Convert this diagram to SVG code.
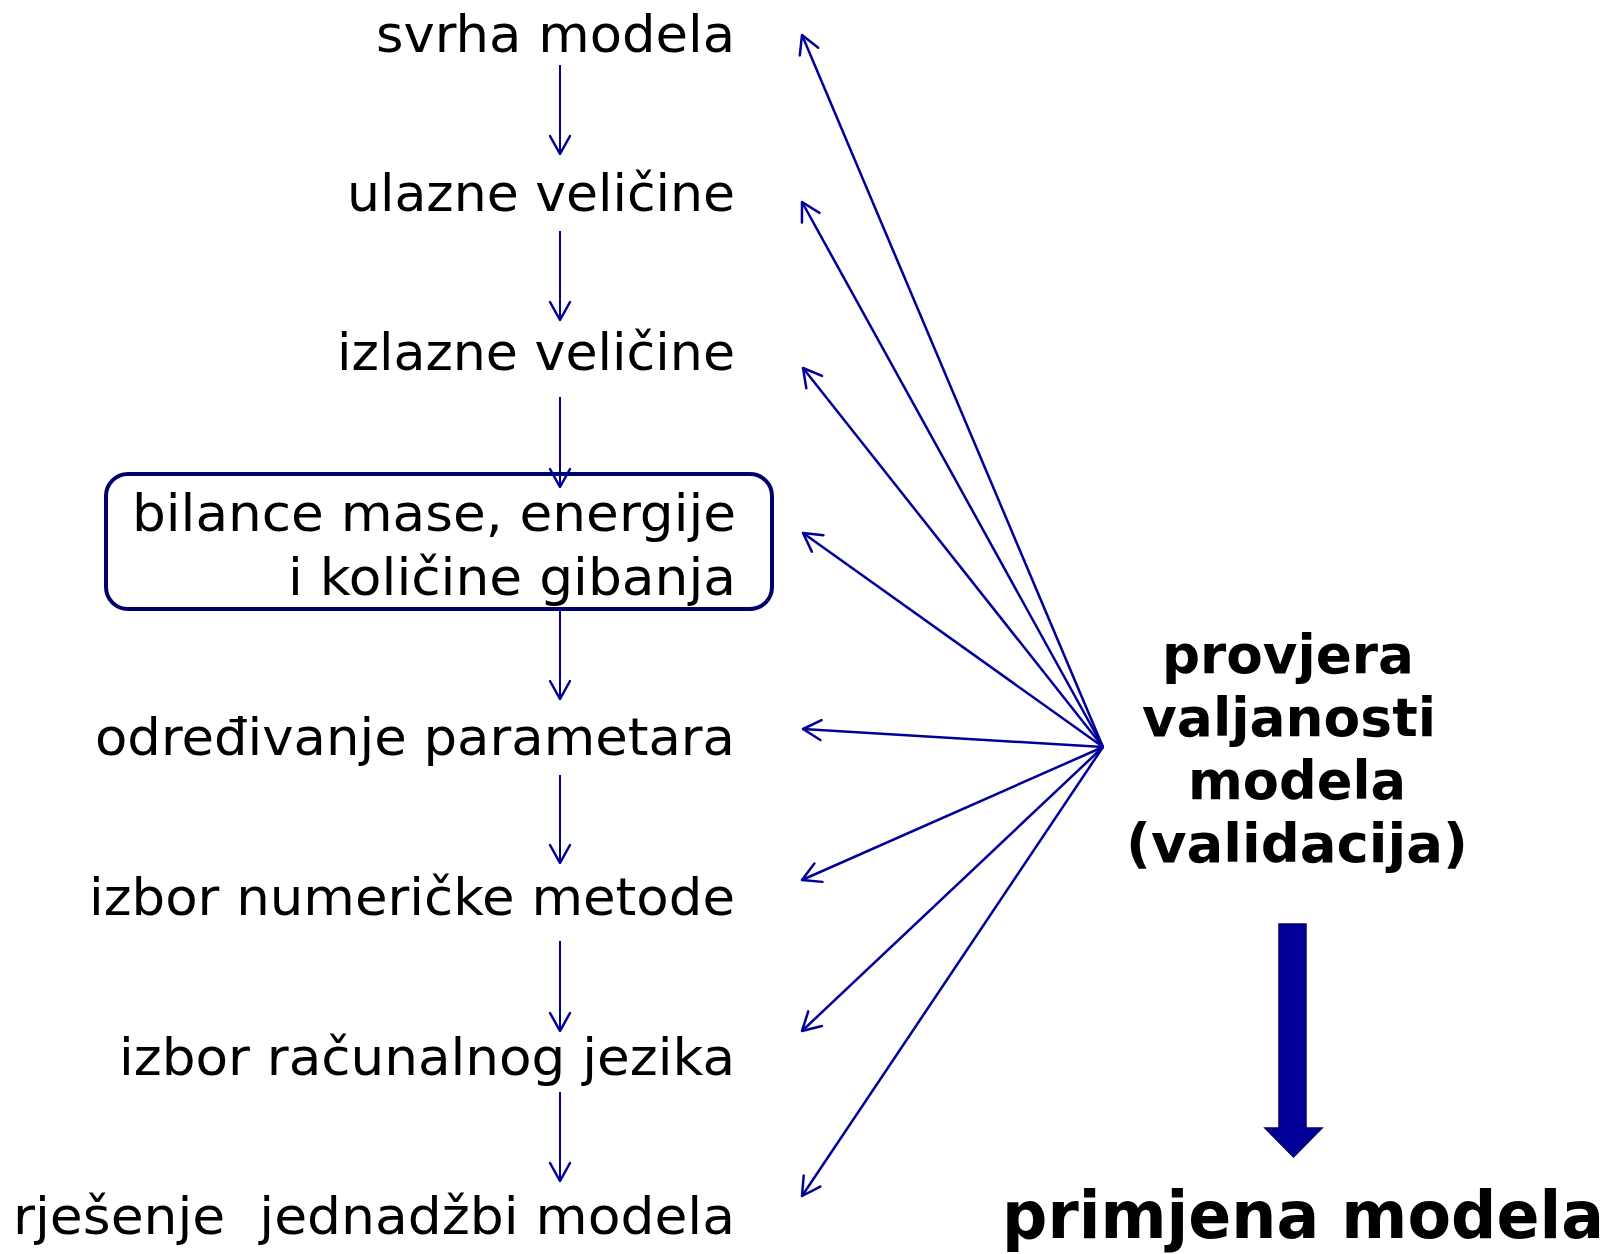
<svg xmlns="http://www.w3.org/2000/svg" width="1623" height="1254" viewBox="0 0 1623 1254">
<style>
.t{font-family:"DejaVu Sans","Verdana",sans-serif;font-size:52px;fill:#000;white-space:pre}
.b{font-family:"DejaVu Sans","Verdana",sans-serif;font-weight:bold;font-size:54px;fill:#000}
.v{stroke:#000099;stroke-width:2;fill:none}
.f{stroke:#000099;stroke-width:2.5;fill:none}
</style>
<defs>
<marker id="ah" markerUnits="userSpaceOnUse" markerWidth="40" markerHeight="40" viewBox="-20 -20 40 40" refX="0" refY="0" orient="auto" overflow="visible">
<path d="M -18 -10 L 0 0 L -18 10" fill="none" stroke="#000099" stroke-width="2.5" stroke-linecap="round" stroke-linejoin="round"/>
</marker>
</defs>
<rect width="1623" height="1254" fill="#fff"/>
<g id="n1"><text class="t" x="376" y="52" textLength="359" lengthAdjust="spacingAndGlyphs">svrha modela</text></g>
<g id="n2"><text class="t" x="347" y="211" textLength="388" lengthAdjust="spacingAndGlyphs">ulazne veličine</text></g>
<g id="n3"><text class="t" x="337" y="370" textLength="398" lengthAdjust="spacingAndGlyphs">izlazne veličine</text></g>
<g id="n4">
<rect x="106" y="474" width="666" height="135" rx="22" ry="22" fill="none" stroke="#000066" stroke-width="4"/>
<text class="t" x="132" y="531" textLength="604" lengthAdjust="spacingAndGlyphs">bilance mase, energije</text>
<text class="t" x="288" y="595" textLength="448" lengthAdjust="spacingAndGlyphs">i količine gibanja</text>
</g>
<g id="n5"><text class="t" x="95" y="755" textLength="640" lengthAdjust="spacingAndGlyphs">određivanje parametara</text></g>
<g id="n6"><text class="t" x="89" y="915" textLength="646" lengthAdjust="spacingAndGlyphs">izbor numeričke metode</text></g>
<g id="n7"><text class="t" x="119" y="1075" textLength="616" lengthAdjust="spacingAndGlyphs">izbor računalnog jezika</text></g>
<g id="n8"><text class="t" x="13" y="1234" textLength="722" lengthAdjust="spacingAndGlyphs">rješenje  jednadžbi modela</text></g>
<g id="validacija">
<text class="b" x="1162" y="673" textLength="252" lengthAdjust="spacingAndGlyphs">provjera</text>
<text class="b" x="1142" y="736" textLength="294" lengthAdjust="spacingAndGlyphs">valjanosti</text>
<text class="b" x="1188" y="799" textLength="218" lengthAdjust="spacingAndGlyphs">modela</text>
<text class="b" x="1126" y="862" textLength="342" lengthAdjust="spacingAndGlyphs">(validacija)</text>
</g>
<g id="primjena"><text class="b" style="font-size:65px" x="1002" y="1238" textLength="602" lengthAdjust="spacingAndGlyphs">primjena modela</text></g>
<g id="connectors">
<line class="v" x1="560" y1="65" x2="560" y2="154" marker-end="url(#ah)"/>
<line class="v" x1="560" y1="231" x2="560" y2="320" marker-end="url(#ah)"/>
<line class="v" x1="560" y1="397" x2="560" y2="487" marker-end="url(#ah)"/>
<line class="v" x1="560" y1="611" x2="560" y2="699" marker-end="url(#ah)"/>
<line class="v" x1="560" y1="775" x2="560" y2="863" marker-end="url(#ah)"/>
<line class="v" x1="560" y1="941" x2="560" y2="1031" marker-end="url(#ah)"/>
<line class="v" x1="560" y1="1092" x2="560" y2="1181" marker-end="url(#ah)"/>
<line class="f" x1="1103" y1="747" x2="802" y2="35" marker-end="url(#ah)"/>
<line class="f" x1="1103" y1="747" x2="802" y2="202" marker-end="url(#ah)"/>
<line class="f" x1="1103" y1="747" x2="803" y2="368" marker-end="url(#ah)"/>
<line class="f" x1="1103" y1="747" x2="803" y2="533" marker-end="url(#ah)"/>
<line class="f" x1="1103" y1="747" x2="803" y2="729" marker-end="url(#ah)"/>
<line class="f" x1="1103" y1="747" x2="802" y2="880" marker-end="url(#ah)"/>
<line class="f" x1="1103" y1="747" x2="802" y2="1031" marker-end="url(#ah)"/>
<line class="f" x1="1103" y1="747" x2="802" y2="1196" marker-end="url(#ah)"/>
<polygon points="1279,924 1306,924 1306,1128 1322,1128 1293.5,1157 1265,1128 1279,1128" fill="#000099" stroke="#000066" stroke-width="1.5"/>
</g>
</svg>
